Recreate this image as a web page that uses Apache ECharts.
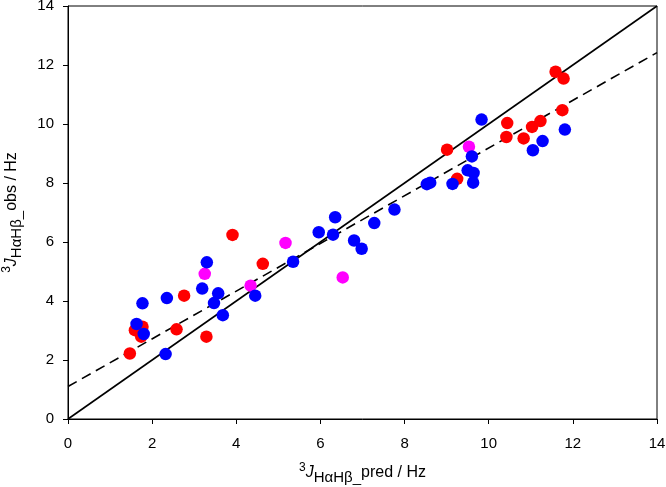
<!DOCTYPE html>
<html>
<head>
<meta charset="utf-8">
<script src="https://cdn.jsdelivr.net/npm/echarts@6/dist/echarts.min.js"></script>
<style>html,body{margin:0;padding:0;background:#fff;}#c{width:666px;height:487px;}</style>
</head>
<body>
<div id="c"></div>
<script>
const tickValues = [0, 2, 4, 6, 8, 10, 12, 14];
const redX = [1.47,1.59,1.77,1.74,2.58,2.76,3.29,3.91,4.63,9.01,9.25,10.44,10.42,10.83,11.03,11.23,11.59,11.78,11.75];
const redY = [2.22,3.01,3.13,2.79,3.04,4.18,2.79,6.24,5.26,9.13,8.14,10.03,9.56,9.51,9.90,10.10,11.77,11.54,10.47];
const blueX = [1.63,1.80,1.77,2.32,2.35,3.19,3.30,3.47,3.57,3.68,4.45,5.35,5.96,6.35,6.30,6.80,6.98,7.28,7.76,8.53,8.61,9.14,9.60,9.50,9.64,9.63,9.83,11.05,11.28,11.81];
const blueY = [3.22,2.88,3.92,2.20,4.10,4.42,5.31,3.93,4.26,3.52,4.18,5.33,6.33,6.84,6.25,6.05,5.77,6.64,7.10,7.96,8.01,7.97,8.90,8.43,8.34,8.01,10.15,9.11,9.42,9.81];
const magentaX = [3.25,4.34,5.17,6.53,9.53];
const magentaY = [4.92,4.52,5.97,4.80,9.23];
const identityLine = [[0,0],[14,14]];
const fitLine = [[0,1.10],[14,12.42]];

const zip = (xs, ys) => xs.map((x, i) => [x, ys[i]]);
const font = 'Liberation Sans, Arial, sans-serif';
const nameRich = {
  sup: {fontSize: 12, fontFamily: font, color: '#000', padding: [0,0,10,0]},
  j: {fontSize: 16, fontFamily: font, color: '#000', fontStyle: 'italic'},
  sub: {fontSize: 15, fontFamily: font, color: '#000', padding: [9,0,0,0]},
  n: {fontSize: 16, fontFamily: font, color: '#000'}
};
const chart = echarts.init(document.getElementById('c'), null, {renderer: 'canvas'});
const axisCommon = {
  min: 0, max: 14, interval: 2,
  axisLine: {show: true, lineStyle: {color: '#000', width: 1}},
  axisTick: {show: true, length: 5, lineStyle: {color: '#000'}},
  axisLabel: {color: '#000', fontSize: 15, fontFamily: font},
  splitLine: {show: false},
  nameLocation: 'middle',
  nameTextStyle: {rich: nameRich}
};
chart.setOption({
  animation: false,
  backgroundColor: '#fff',
  grid: {left: 68, right: 9, top: 6, bottom: 68, containLabel: false, outerBoundsMode: 'none',
         show: true, borderColor: '#000', borderWidth: 1},
  xAxis: Object.assign({}, axisCommon, {
    type: 'value',
    name: '{sup|3}{j|J}{sub|HαHβ_}{n|pred / Hz}',
    nameGap: 42,
    axisLabel: Object.assign({}, axisCommon.axisLabel, {margin: 17})
  }),
  yAxis: Object.assign({}, axisCommon, {
    type: 'value',
    name: '{sup|3}{j|J}{sub|HαHβ_}{n|obs / Hz}',
    nameGap: 44,
    axisLabel: Object.assign({}, axisCommon.axisLabel, {margin: 14})
  }),
  series: [
    {type: 'line', data: identityLine, symbol: 'none', lineStyle: {color: '#000', width: 1.6}, z: 1},
    {type: 'line', data: fitLine, symbol: 'none', lineStyle: {color: '#000', width: 1.6, type: [10, 6]}, z: 1},
    {type: 'scatter', data: zip(magentaX, magentaY), symbolSize: 12.5, itemStyle: {color: '#ff00ff', opacity: 1}, z: 2},
    {type: 'scatter', data: zip(redX, redY), symbolSize: 12.5, itemStyle: {color: '#ff0000', opacity: 1}, z: 2},
    {type: 'scatter', data: zip(blueX, blueY), symbolSize: 12.5, itemStyle: {color: '#0000ff', opacity: 1}, z: 2}
  ]
});
</script>
</body>
</html>
